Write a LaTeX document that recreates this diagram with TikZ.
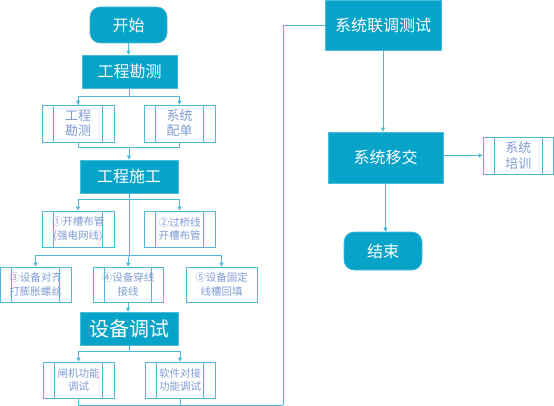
\documentclass[tikz,border=0pt]{standalone}
\usepackage{fontspec}
\setmainfont{Noto Sans CJK SC}
\usetikzlibrary{arrows.meta}
\definecolor{mainfill}{HTML}{07A3C8}
\definecolor{lncol}{HTML}{4CBAD8}
\definecolor{subtxt}{HTML}{7E9CD4}
\tikzset{
  mainbox/.style={draw=lncol, line width=0.6pt, fill=mainfill, text=white, inner sep=0pt, font=\fontsize{16}{18}\selectfont},
  termbox/.style={mainbox, rounded corners=10pt},
  subbox/.style={draw=lncol, line width=0.8pt, fill=white, text=subtxt, inner sep=0pt, align=center, font=\fontsize{10.5}{13.5}\selectfont},
  subproc/.style={subbox, path picture={
     \draw[lncol, line width=0.8pt] ([xshift=11.5pt]path picture bounding box.north west) -- ([xshift=11.5pt]path picture bounding box.south west);
     \draw[lncol, line width=0.8pt] ([xshift=-11.5pt]path picture bounding box.north east) -- ([xshift=-11.5pt]path picture bounding box.south east);}},
  ln/.style={draw=lncol, line width=0.8pt},
  arr/.style={ln, -{Triangle[length=4pt,width=4pt]}}
}
\begin{document}
\begin{tikzpicture}[x=1pt,y=-1pt]
\useasboundingbox (0,0) rectangle (554,406);
% left column
\node[termbox, minimum width=77pt, minimum height=36pt] (start) at (128.5,25) {开始};
\node[mainbox, minimum width=95pt, minimum height=33pt] (kc) at (129.5,71.5) {工程勘测};
\node[subproc, minimum width=72pt, minimum height=37pt, font=\fontsize{13}{15}\selectfont] (s1) at (78,123.5) {工程\\勘测};
\node[subproc, minimum width=71pt, minimum height=37pt, font=\fontsize{13}{15}\selectfont] (s2) at (179.5,123.5) {系统\\配单};
\node[mainbox, minimum width=98pt, minimum height=33pt] (sg) at (129,176.5) {工程施工};
\node[subproc, minimum width=72pt, minimum height=36pt] (b1) at (78,229) {①开槽布管\\(强电网线)};
\node[subproc, minimum width=71pt, minimum height=36pt] (b2) at (179.5,229) {②过桥线\\开槽布管};
\node[subproc, minimum width=71pt, minimum height=35pt] (b3) at (35.5,284.5) {③设备对齐\\打膨胀螺丝};
\node[subproc, minimum width=70pt, minimum height=35pt] (b4) at (128,284.5) {④设备穿线\\接线};
\node[subbox, minimum width=71pt, minimum height=35pt] (b5) at (221.5,284.5) {⑤设备固定\\线槽回填};
\node[mainbox, minimum width=98pt, minimum height=33pt, font=\fontsize{20}{22}\selectfont] (ts) at (129,328.5) {设备调试};
\node[subproc, minimum width=71pt, minimum height=36pt] (c1) at (78.5,380) {闸机功能\\调试};
\node[subproc, minimum width=70pt, minimum height=36pt] (c2) at (180,380) {软件对接\\功能调试};
% right column
\node[mainbox, minimum width=116pt, minimum height=50pt] (lt) at (383,25) {系统联调测试};
\node[mainbox, minimum width=115pt, minimum height=51pt] (yj) at (385.5,157.5) {系统移交};
\node[subproc, minimum width=70.5pt, minimum height=37pt, font=\fontsize{13}{16}\selectfont] (px) at (518.25,155.5) {系统\\培训};
\node[termbox, minimum width=78pt, minimum height=38pt] (end) at (383,251) {结束};
\coordinate (jr) at (283,405);
% connectors
\draw[arr] (start.south) -- (start.south |- kc.north);
\draw[ln] (kc.south) -- (kc.south |- 0,96) -| (s1.north);
\draw[arr] (kc.south |- 0,96) -| (s2.north);
\draw[arr] (s1.north |- 0,96) -- (s1.north);
\draw[ln] (s1.south) -- (s1.south |- 0,147) -- (s2.south |- 0,147) -- (s2.south);
\draw[arr] (sg.north |- 0,147) -- (sg.north);
\draw[ln] (sg.south) -- (sg.south |- 0,255);
\draw[arr] (sg.south |- 0,199) -| (b1.north);
\draw[arr] (sg.south |- 0,199) -| (b2.north);
\draw[arr] (sg.south |- 0,255) -| (b3.north);
\draw[arr] (sg.south |- 0,255) -| (b5.north);
\draw[arr] (sg.south |- 0,255) -- (b4.north);
\draw[arr] (b4.south) -- (b4.south |- ts.north);
\draw[ln] (ts.south) -- (ts.south |- 0,351);
\draw[arr] (ts.south |- 0,351) -| (c1.north);
\draw[arr] (ts.south |- 0,351) -| (c2.north);
\draw[ln] (c1.south) -- (c1.south |- jr) -- (jr);
\draw[ln] (c2.south) -- (c2.south |- jr);
\draw[ln] (jr) |- (lt.west);
\draw[arr] (lt.south) -- (lt.south |- yj.north);
\draw[arr] (yj.east |- px.west) -- (px.west);
\draw[arr] (yj.south) -- (yj.south |- end.north);
\end{tikzpicture}
\end{document}
